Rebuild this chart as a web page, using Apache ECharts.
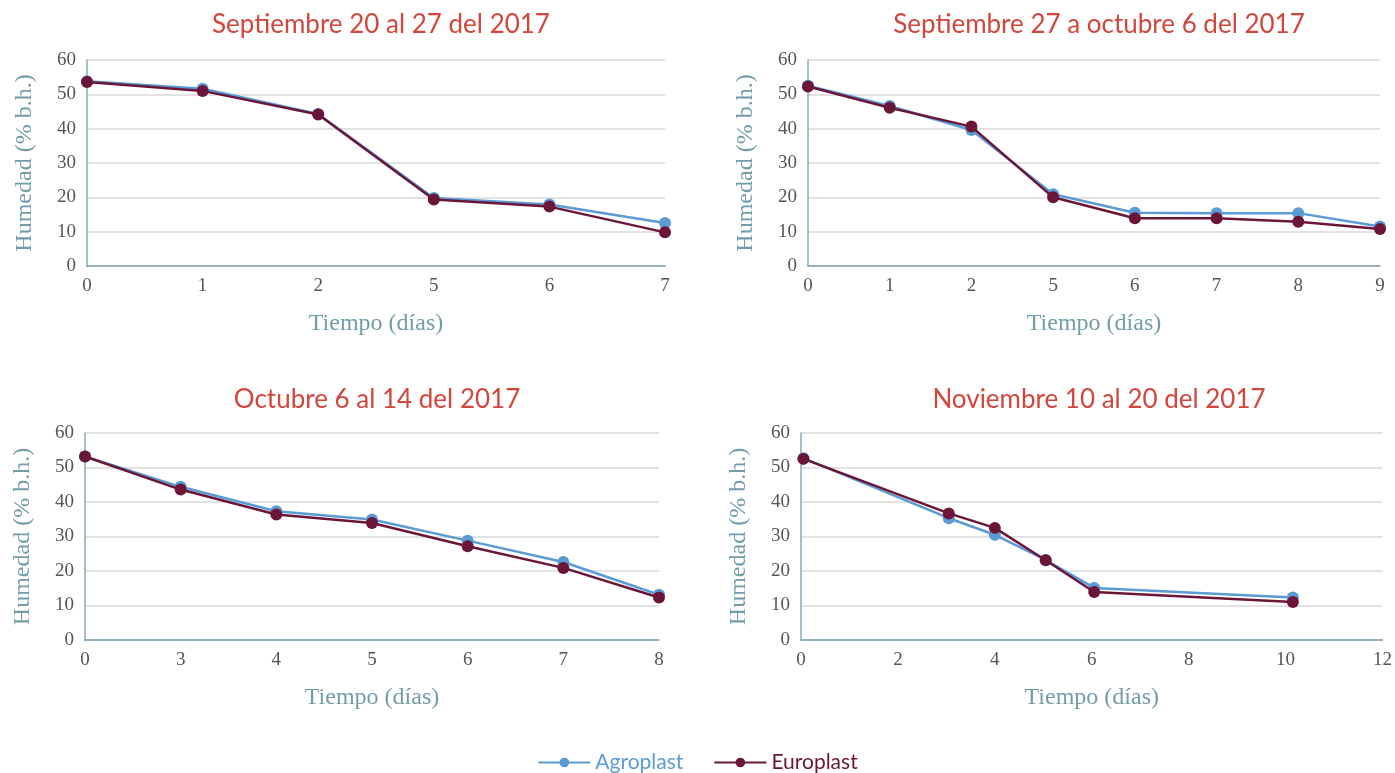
<!DOCTYPE html>
<html>
<head>
<meta charset="utf-8">
<title>Humedad</title>
<script src="https://cdn.jsdelivr.net/npm/echarts@6/dist/echarts.min.js"></script>
<style>
  html, body { margin: 0; padding: 0; background: #fff; }
  #chart { width: 1395px; height: 773px; }
</style>
</head>
<body>
<div id="chart"></div>
<script type="text/javascript">
// titulos de cada panel
var titles = [
    'Septiembre 20 al 27 del 2017',
    'Septiembre 27 a octubre 6 del 2017',
    'Octubre 6 al 14 del 2017',
    'Noviembre 10 al 20 del 2017'
];

// panel 1
var dias1 = ['0', '1', '2', '5', '6', '7'];
var agro1 = [53.8, 51.6, 44.3, 19.8, 17.9, 12.5];
var euro1 = [53.6, 51.0, 44.1, 19.4, 17.3, 9.8];

// panel 2
var dias2 = ['0', '1', '2', '5', '6', '7', '8', '9'];
var agro2 = [52.5, 46.6, 39.6, 20.9, 15.5, 15.4, 15.4, 11.5];
var euro2 = [52.3, 46.1, 40.6, 20.0, 13.9, 13.9, 12.9, 10.8];

// panel 3
var dias3 = ['0', '3', '4', '5', '6', '7', '8'];
var agro3 = [53.2, 44.4, 37.3, 34.9, 28.8, 22.6, 13.1];
var euro3 = [53.2, 43.6, 36.4, 33.9, 27.2, 20.9, 12.3];

// panel 4 (eje numerico)
var dias4 = [0.05, 3.05, 4.0, 5.05, 6.05, 10.15];
var agro4 = [52.7, 35.3, 30.5, 23.2, 15.1, 12.3];
var euro4 = [52.5, 36.7, 32.5, 23.1, 13.9, 11.0];

var colAgro = '#5b9bd5';
var colEuro = '#6b1638';
var serif = '"Liberation Serif", "DejaVu Serif", serif';
var sans = 'Lato, "Open Sans", sans-serif';

var grids = [
    {left: 87, top: 60, width: 578, height: 206},
    {left: 808, top: 60, width: 572, height: 206},
    {left: 85, top: 433, width: 574, height: 207},
    {left: 801, top: 433, width: 586, height: 207}
];

function yAxis(i) {
    return {
        gridIndex: i,
        type: 'value',
        min: 0, max: 60, interval: 10,
        name: 'Humedad (% b.h.)',
        nameLocation: 'middle',
        nameGap: 50,
        nameTextStyle: {fontFamily: serif, fontSize: 24, color: '#739ca9'},
        axisLine: {show: true, lineStyle: {color: '#8aaab8', width: 1.5}},
        axisTick: {show: false},
        axisLabel: {fontFamily: serif, fontSize: 19, color: '#555', margin: 11},
        splitLine: {lineStyle: {color: '#d9d9d9', width: 1.5}}
    };
}

function xAxis(i, cats) {
    var ax = {
        gridIndex: i,
        name: 'Tiempo (días)',
        nameLocation: 'middle',
        nameGap: 46,
        nameTextStyle: {fontFamily: serif, fontSize: 24, color: '#739ca9'},
        axisLine: {show: true, lineStyle: {color: '#7c9fb0', width: 1.5}},
        axisTick: {show: false},
        axisLabel: {fontFamily: serif, fontSize: 19, color: '#555', margin: 11},
        splitLine: {show: false}
    };
    if (cats) {
        ax.type = 'category';
        ax.data = cats;
        ax.boundaryGap = false;
    } else {
        ax.type = 'value';
        ax.min = 0; ax.max = 12; ax.interval = 2;
    }
    return ax;
}

function serie(name, i, data, color, z) {
    return {
        name: name,
        type: 'line',
        xAxisIndex: i,
        yAxisIndex: i,
        data: data,
        z: z,
        symbol: 'circle',
        symbolSize: 12,
        lineStyle: {color: color, width: 2.5},
        itemStyle: {color: color},
        animation: false
    };
}

function pares(xs, ys) {
    var out = [];
    for (var k = 0; k < xs.length; k++) out.push([xs[k], ys[k]]);
    return out;
}

var titleObjs = [];
for (var i = 0; i < 4; i++) {
    var g = grids[i];
    titleObjs.push({
        text: titles[i],
        left: g.left + g.width / 2,
        top: i < 2 ? 7 : 382,
        textAlign: 'center',
        textStyle: {fontFamily: sans, fontSize: 26, fontWeight: 'normal', color: '#d2463c'}
    });
}

var chart = echarts.init(document.getElementById('chart'));
var option = {
    backgroundColor: '#fff',
    title: titleObjs,
    legend: {
        left: 'center',
        top: 747,
        itemWidth: 52,
        itemHeight: 12,
        itemGap: 30,
        textStyle: {fontFamily: sans, fontSize: 21},
        data: [
            {name: 'Agroplast', textStyle: {color: colAgro}},
            {name: 'Europlast', textStyle: {color: colEuro}}
        ]
    },
    grid: grids,
    xAxis: [xAxis(0, dias1), xAxis(1, dias2), xAxis(2, dias3), xAxis(3, null)],
    yAxis: [yAxis(0), yAxis(1), yAxis(2), yAxis(3)],
    series: [
        serie('Agroplast', 0, agro1, colAgro, 2),
        serie('Europlast', 0, euro1, colEuro, 3),
        serie('Agroplast', 1, agro2, colAgro, 2),
        serie('Europlast', 1, euro2, colEuro, 3),
        serie('Agroplast', 2, agro3, colAgro, 2),
        serie('Europlast', 2, euro3, colEuro, 3),
        serie('Agroplast', 3, pares(dias4, agro4), colAgro, 2),
        serie('Europlast', 3, pares(dias4, euro4), colEuro, 3)
    ]
};
chart.setOption(option);
</script>
</body>
</html>
